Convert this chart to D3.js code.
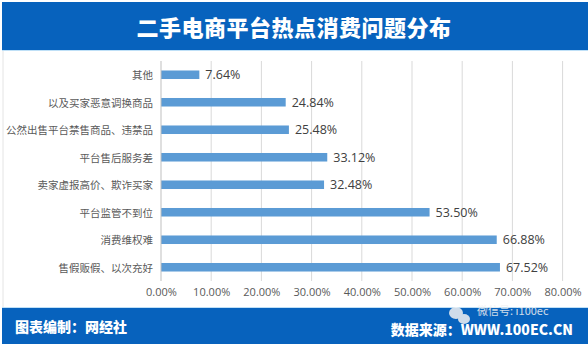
<!DOCTYPE html>
<html>
<head>
<meta charset="utf-8">
<script src="https://cdn.jsdelivr.net/npm/d3@7"></script>
<style>
  html, body { margin: 0; padding: 0; background: #ffffff; }
  svg { display: block; }
</style>
</head>
<body>
<svg id="chart" width="588" height="346"></svg>
<script>
// Categories, top to bottom
const categories = [
  "其他",
  "以及买家恶意调换商品",
  "公然出售平台禁售商品、违禁品",
  "平台售后服务差",
  "卖家虚报高价、欺诈买家",
  "平台监管不到位",
  "消费维权难",
  "售假贩假、以次充好"
];
// Share of complaints (%)
const values = [7.64, 24.84, 25.48, 33.12, 32.48, 53.50, 66.88, 67.52];
// X axis ticks (%)
const tickValues = [0, 10, 20, 30, 40, 50, 60, 70, 80];

const title = "二手电商平台热点消费问题分布";
const footerLeft = "图表编制：网经社";
const footerRight = "数据来源：WWW.100EC.CN";
const wechatId = "微信号: i100ec";

const W = 588, H = 346;
const svg = d3.select("#chart");
const cjk = "'Noto Sans CJK SC', 'Noto Sans', sans-serif";

// page frame
svg.append("rect").attr("x", 0).attr("y", 0).attr("width", W).attr("height", H).attr("fill", "#ffffff");
svg.append("line").attr("x1", 3).attr("x2", 3).attr("y1", 50).attr("y2", 308)
  .attr("stroke", "#e4e4e4").attr("stroke-width", 1);

// header band
svg.append("rect").attr("x", 2).attr("y", 2).attr("width", W - 2).attr("height", 48).attr("fill", "#0762BD");
svg.append("line").attr("x1", 2).attr("x2", W).attr("y1", 50.5).attr("y2", 50.5)
  .attr("stroke", "#bfe0f7").attr("stroke-width", 1);
svg.append("text")
  .attr("x", 294).attr("y", 26)
  .attr("text-anchor", "middle").attr("dominant-baseline", "central")
  .attr("fill", "#ffffff")
  .style("font-family", cjk).style("font-weight", 900).style("font-size", "22px")
  .style("letter-spacing", "0.5px")
  .text(title);

// plot area
const plot = { left: 161, right: 562.6, top: 61, bottom: 281 };
const x = d3.scaleLinear().domain([0, 80]).range([plot.left, plot.right]);
const y = d3.scaleBand().domain(categories).range([plot.top, plot.bottom]).paddingInner(0.69).paddingOuter(0.345);

// gridlines
svg.append("g").selectAll("line")
  .data(tickValues.filter(d => d > 0))
  .join("line")
  .attr("x1", d => x(d)).attr("x2", d => x(d))
  .attr("y1", plot.top).attr("y2", plot.bottom)
  .attr("stroke", "#d9d9d9").attr("stroke-width", 1);

// bars
svg.append("g").selectAll("rect")
  .data(categories)
  .join("rect")
  .attr("x", x(0))
  .attr("y", d => y(d))
  .attr("width", (d, i) => x(values[i]) - x(0))
  .attr("height", y.bandwidth())
  .attr("fill", "#5B9BD5");

// category axis line
svg.append("line").attr("x1", x(0)).attr("x2", x(0))
  .attr("y1", plot.top).attr("y2", plot.bottom)
  .attr("stroke", "#bfbfbf").attr("stroke-width", 1);

// category labels
svg.append("g").selectAll("text")
  .data(categories)
  .join("text")
  .attr("x", 153)
  .attr("y", d => y(d) + y.bandwidth() / 2)
  .attr("text-anchor", "end").attr("dominant-baseline", "central")
  .attr("fill", "#595959")
  .style("font-family", cjk).style("font-size", "10.5px")
  .text(d => d);

// value labels
svg.append("g").selectAll("text")
  .data(categories)
  .join("text")
  .attr("x", (d, i) => x(values[i]) + 6)
  .attr("y", d => y(d) + y.bandwidth() / 2)
  .attr("dominant-baseline", "central")
  .attr("fill", "#404040")
  .style("font-family", "'Open Sans', sans-serif").style("font-size", "12.5px")
  .text((d, i) => values[i].toFixed(2) + "%");

// x axis tick labels
const xAxis = d3.axisBottom(x).tickValues(tickValues).tickSize(0).tickPadding(0)
  .tickFormat(d => d.toFixed(2) + "%");
const gx = svg.append("g").attr("transform", `translate(0,${plot.bottom + 7})`).call(xAxis);
gx.select(".domain").remove();
gx.selectAll("text")
  .attr("fill", "#595959")
  .attr("dy", "0.71em")
  .style("font-family", "'Open Sans', sans-serif").style("font-size", "11px");

// footer band
svg.append("rect").attr("x", 2).attr("y", 308).attr("width", W - 2).attr("height", 36).attr("fill", "#0762BD");
svg.append("line").attr("x1", 2).attr("x2", W).attr("y1", 307.5).attr("y2", 307.5)
  .attr("stroke", "#bfe0f7").attr("stroke-width", 1);
svg.append("text")
  .attr("x", 15).attr("y", 326)
  .attr("dominant-baseline", "central")
  .attr("fill", "#ffffff")
  .style("font-family", cjk).style("font-weight", 900).style("font-size", "14px")
  .text(footerLeft);
svg.append("text")
  .attr("x", 573).attr("y", 329)
  .attr("text-anchor", "end").attr("dominant-baseline", "central")
  .attr("fill", "#ffffff")
  .style("font-family", cjk).style("font-weight", 900).style("font-size", "14px")
  .text(footerRight);

// WeChat account mark over the footer
const wx = svg.append("g").attr("opacity", 0.85);
wx.append("ellipse").attr("cx", 456).attr("cy", 313).attr("rx", 7).attr("ry", 6).attr("fill", "#f2f2f2");
wx.append("ellipse").attr("cx", 464).attr("cy", 319).attr("rx", 6).attr("ry", 5).attr("fill", "#f2f2f2");
wx.append("text")
  .attr("x", 477).attr("y", 310)
  .attr("dominant-baseline", "central")
  .attr("fill", "#f2f2f2")
  .style("font-family", cjk).style("font-size", "11px")
  .text(wechatId);
</script>
</body>
</html>
